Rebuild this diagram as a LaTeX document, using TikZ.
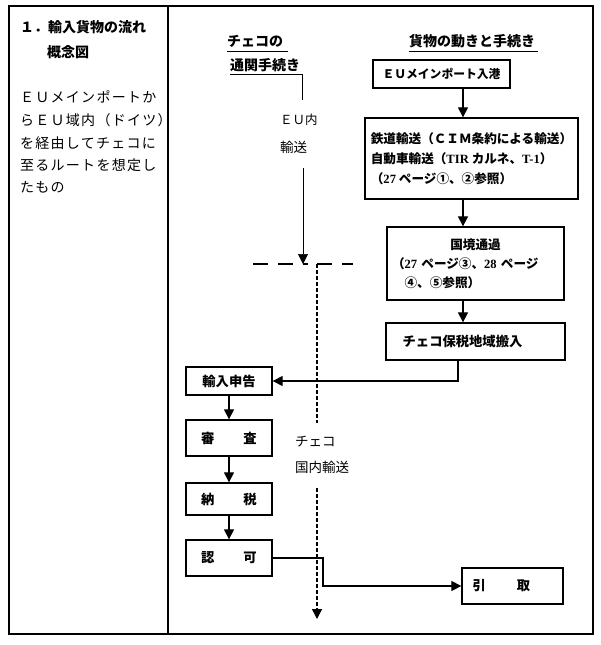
\documentclass[tikz,border=0pt]{standalone}
\usepackage{fontspec}
\newfontfamily\jp{Noto Sans CJK JP}
\newfontfamily\jpwide[LetterSpace=9]{Noto Sans CJK JP}
\newfontfamily\lat{Liberation Serif}
\newcommand{\lt}[1]{{\lat\bfseries #1}}
\usetikzlibrary{arrows.meta}
\begin{document}
\begin{tikzpicture}[x=1pt,y=-1pt,
  box/.style={draw, line width=1.3pt, inner sep=0pt, font=\jp\bfseries\fontsize{13.3}{16}\selectfont},
  arr/.style={line width=1.2pt, -{Triangle[length=10pt,width=10pt]}},
  thinarr/.style={line width=0.7pt, -{Triangle[length=10pt,width=10pt]}},
  dsh/.style={line width=1.4pt, dash pattern=on 4pt off 2pt},
  hdsh/.style={line width=1.6pt, dash pattern=on 15pt off 10pt},
  lbl/.style={inner sep=0pt, anchor=west, font=\jp\fontsize{13.5}{16}\selectfont},
  head/.style={inner sep=0pt, anchor=west, font=\jp\bfseries\fontsize{14}{16}\selectfont},
  para/.style={inner sep=0pt, anchor=west, font=\jpwide\fontsize{14}{16}\selectfont}]
\useasboundingbox (0,0) rectangle (600,645);
% frame
\draw[line width=1.5pt] (9,6) rectangle (593,634);
\draw[line width=1.5pt] (168,6) -- (168,634);
% left column
\node[head] (t1) at (20,27) {１．輸入貨物の流れ};
\node[head] (t2) at (47,52) {概念図};
\node[para] (p1) at (20,97) {ＥＵメインポートか};
\node[para] (p2) at (20,120) {らＥＵ域内（ドイツ）};
\node[para] (p3) at (20,143) {を経由してチェコに};
\node[para] (p4) at (20,165) {至るルートを想定し};
\node[para] (p5) at (20,187) {たもの};
% headers
\node[head] (h1) at (227,41) {チェコの};
\node[head] (h2) at (230,65) {通関手続き};
\node[head] (h3) at (409,41) {貨物の動きと手続き};
\draw[line width=1pt] (227,51) -- (288,51);
\draw[line width=1pt] (230,74) -- (302,74);
\draw[line width=0.6pt] (302,74) -- (302,100);
\draw[line width=1pt] (409,51) -- (538,51);
% right flow
\node[box, minimum width=137pt, minimum height=28pt, font=\jp\bfseries\fontsize{11.8}{14}\selectfont] (b1) at (441.5,74) {ＥＵメインポート入港};
\node[box, minimum width=213pt, minimum height=81pt, align=left, font=\jp\bfseries\fontsize{12.6}{20}\selectfont] (b2) at (471.5,158.5)
  {鉄道輸送（ＣＩＭ条約による輸送）\\自動車輸送（\lt{TIR} カルネ、\lt{T-1}）\\（\lt{27} ページ①、②参照）};
\node[box, minimum width=177pt, minimum height=73pt, text width=167pt, align=left, font=\jp\bfseries\fontsize{12.6}{19}\selectfont] (b3) at (475.5,263.5)
  {\makebox[\linewidth]{国境通過}\\（\lt{27} ページ③、\lt{28} ページ\\　④、⑤参照）};
\node[box, minimum width=179pt, minimum height=37pt] (b4) at (475.5,341.5) {チェコ保税地域搬入\hspace{26pt}\mbox{}};
\node[box, minimum width=86pt, minimum height=28pt] (b5) at (229,381) {輸入申告};
\node[box, minimum width=86pt, minimum height=36pt] (b6) at (229,438) {審\hspace{29pt}査};
\node[box, minimum width=86pt, minimum height=32pt] (b7) at (229,499) {納\hspace{29pt}税};
\node[box, minimum width=86pt, minimum height=36pt] (b8) at (229,558) {認\hspace{29pt}可};
\node[box, minimum width=101pt, minimum height=36pt] (b9) at (512.5,586) {引\hspace{31pt}取\hspace{22pt}\mbox{}};
\coordinate (ax) at (463,0);
\draw[arr] (b1.south -| ax) -- (b2.north -| ax);
\draw[arr] (b2.south -| ax) -- (b3.north -| ax);
\draw[arr] (b3.south -| ax) -- (b4.north -| ax);
\coordinate (bx) at (458,381);
\draw[arr] (b4.south -| bx) -- (bx) -- (b5.east);
\draw[arr] (b5.south) -- (b6.north);
\draw[arr] (b6.south) -- (b7.north);
\draw[arr] (b7.south) -- (b8.north);
\coordinate (cx) at (323,0);
\draw[arr] (b8.east) -- (b8.east -| cx) -- (cx |- b9.west) -- (b9.west);
% EU internal transport
\node[lbl, font=\jp\fontsize{12.5}{16}\selectfont] (eu1) at (280,120) {ＥＵ内};
\node[lbl] (eu2) at (280,147) {輸送};
\coordinate (e0) at (303,168);
\coordinate (e1) at (303,264);
\draw[thinarr] (e0) -- (e1);
% border dashed line
\coordinate (hL) at (253,264);
\coordinate (hM) at (308,264);
\coordinate (d0) at (317,264);
\coordinate (hR) at (353,264);
\draw[hdsh] (hL) -- (hM);
\draw[hdsh] (d0) -- (hR);
% Czech domestic transport
\coordinate (d1) at (317,423);
\coordinate (d2) at (317,488);
\coordinate (d3) at (317,619);
\draw[dsh] (d0) -- (d1);
\draw[dsh, -{Triangle[length=10pt,width=10pt]}] (d2) -- (d3);
\node[lbl] (cz1) at (295,442) {チェコ};
\node[lbl] (cz2) at (295,467) {国内輸送};
\end{tikzpicture}
\end{document}
